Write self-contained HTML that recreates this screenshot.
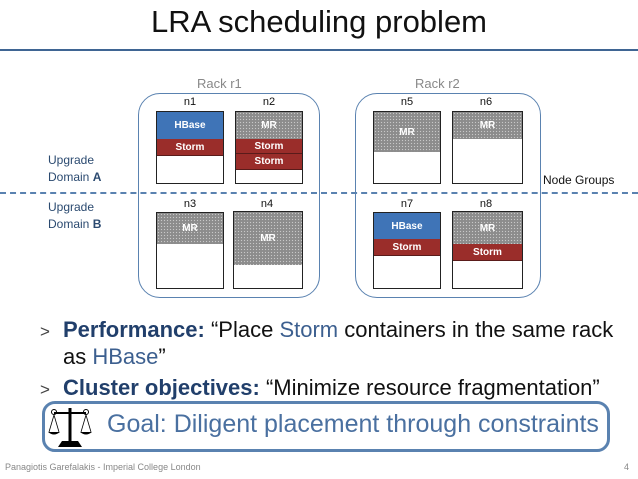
<!DOCTYPE html>
<html><head><meta charset="utf-8"><style>
body{margin:0;width:638px;height:479px;background:#fff;overflow:hidden;position:relative;font-family:"Liberation Sans",sans-serif}
.a{position:absolute}
.node{position:absolute;border:1.5px solid #222;background:#fff;box-sizing:border-box;overflow:hidden}
.mr{background-color:#8c8c8c;background-image:radial-gradient(#c8c8c8 0.7px,transparent 0.8px);background-size:3px 3px;color:#fff;font-weight:bold;font-size:10px;text-align:center;display:flex;align-items:center;justify-content:center}
.hb{background:#3f74b7;color:#fff;font-weight:bold;font-size:10px;display:flex;align-items:center;justify-content:center}
.st{background:#9a2d2a;color:#fff;font-weight:bold;font-size:10px;display:flex;align-items:center;justify-content:center;border-bottom:1px solid #5a1b1a;box-sizing:border-box}
.lbl{position:absolute;font-size:11px;color:#111;width:68px;text-align:center}
.rack{position:absolute;border:1.5px solid #5a82b0;border-radius:22px;box-sizing:border-box}
.dom{position:absolute;left:48px;font-size:12px;color:#2b4a70;line-height:17px}
.bl{position:absolute;font-size:22px;color:#111;white-space:nowrap}
.b{font-weight:bold;color:#213f6b}
.c{color:#3c5f8f}
</style></head><body>
<div class="a" style="left:0;width:638px;top:4px;text-align:center;font-size:31px;color:#111">LRA scheduling problem</div>
<div class="a" style="left:0;top:49px;width:638px;height:2px;background:#3f6593"></div>

<div class="a" style="left:197px;top:76px;font-size:13px;color:#888">Rack r1</div>
<div class="a" style="left:415px;top:76px;font-size:13px;color:#888">Rack r2</div>
<div class="rack" style="left:138px;top:93px;width:182px;height:205px"></div>
<div class="rack" style="left:355px;top:93px;width:186px;height:205px"></div>

<div class="a" style="left:0;top:192px;width:638px;border-top:2px dashed #5a82b0"></div>

<div class="dom" style="top:152px">Upgrade<br>Domain <b>A</b></div>
<div class="dom" style="top:199px">Upgrade<br>Domain <b>B</b></div>
<div class="a" style="left:543px;top:173px;font-size:12px;color:#111">Node Groups</div>

<div class="lbl" style="left:156px;top:96px">n1</div>
<div class="node" style="left:156px;top:111px;width:68px;height:73px"><div class="hb" style="height:27px">HBase</div><div class="st" style="height:17px">Storm</div></div>
<div class="lbl" style="left:235px;top:96px">n2</div>
<div class="node" style="left:235px;top:111px;width:68px;height:73px"><div class="mr" style="height:27px">MR</div><div class="st" style="height:15px">Storm</div><div class="st" style="height:16px">Storm</div></div>
<div class="lbl" style="left:156px;top:198px">n3</div>
<div class="node" style="left:156px;top:212px;width:68px;height:77px"><div class="mr" style="height:31px">MR</div></div>
<div class="lbl" style="left:233px;top:198px">n4</div>
<div class="node" style="left:233px;top:211px;width:70px;height:78px"><div class="mr" style="height:53px">MR</div></div>

<div class="lbl" style="left:373px;top:96px">n5</div>
<div class="node" style="left:373px;top:111px;width:68px;height:73px"><div class="mr" style="height:40px">MR</div></div>
<div class="lbl" style="left:452px;top:96px">n6</div>
<div class="node" style="left:452px;top:111px;width:71px;height:73px"><div class="mr" style="height:27px">MR</div></div>
<div class="lbl" style="left:373px;top:198px">n7</div>
<div class="node" style="left:373px;top:212px;width:68px;height:77px"><div class="hb" style="height:26px">HBase</div><div class="st" style="height:17px">Storm</div></div>
<div class="lbl" style="left:452px;top:198px">n8</div>
<div class="node" style="left:452px;top:211px;width:71px;height:78px"><div class="mr" style="height:32px">MR</div><div class="st" style="height:17px">Storm</div></div>

<div class="bl" style="left:40px;top:317px"><span style="font-size:17px;color:#444">&gt;</span></div>
<div class="bl" style="left:63px;top:317px"><span class="b">Performance:</span> “Place <span class="c">Storm</span> containers in the same rack</div>
<div class="bl" style="left:63px;top:344px">as <span class="c">HBase</span>”</div>
<div class="bl" style="left:40px;top:375px"><span style="font-size:17px;color:#444">&gt;</span></div>
<div class="bl" style="left:63px;top:375px"><span class="b">Cluster objectives:</span> “Minimize resource fragmentation”</div>

<div class="a" style="left:42px;top:401px;width:568px;height:51px;border:3px solid #5a82b0;border-radius:13px;box-sizing:border-box;background:#fff"></div>
<svg class="a" style="left:48px;top:404px" width="44" height="46" viewBox="0 0 44 46">
<line x1="22" y1="4" x2="22" y2="38" stroke="#000" stroke-width="3"/>
<line x1="6" y1="9" x2="38" y2="9" stroke="#000" stroke-width="2"/>
<circle cx="6" cy="8" r="2.5" fill="none" stroke="#000"/><circle cx="38" cy="8" r="2.5" fill="none" stroke="#000"/>
<path d="M6 11 L1 28 M6 11 L11 28 M38 11 L33 28 M38 11 L43 28" stroke="#000" stroke-width="0.8"/>
<path d="M0 28 Q6 33 12 28 Z M32 28 Q38 33 44 28 Z" fill="#000"/>
<path d="M10 43 L34 43 L30 37 L14 37 Z" fill="#000"/>
</svg>
<div class="a" style="left:107px;top:410px;font-size:25px;color:#4a70a0;white-space:nowrap">Goal: Diligent placement through constraints</div>

<div class="a" style="left:5px;top:462px;font-size:9px;color:#888">Panagiotis Garefalakis - Imperial College London</div>
<div class="a" style="left:624px;top:462px;font-size:9px;color:#888">4</div>
</body></html>
